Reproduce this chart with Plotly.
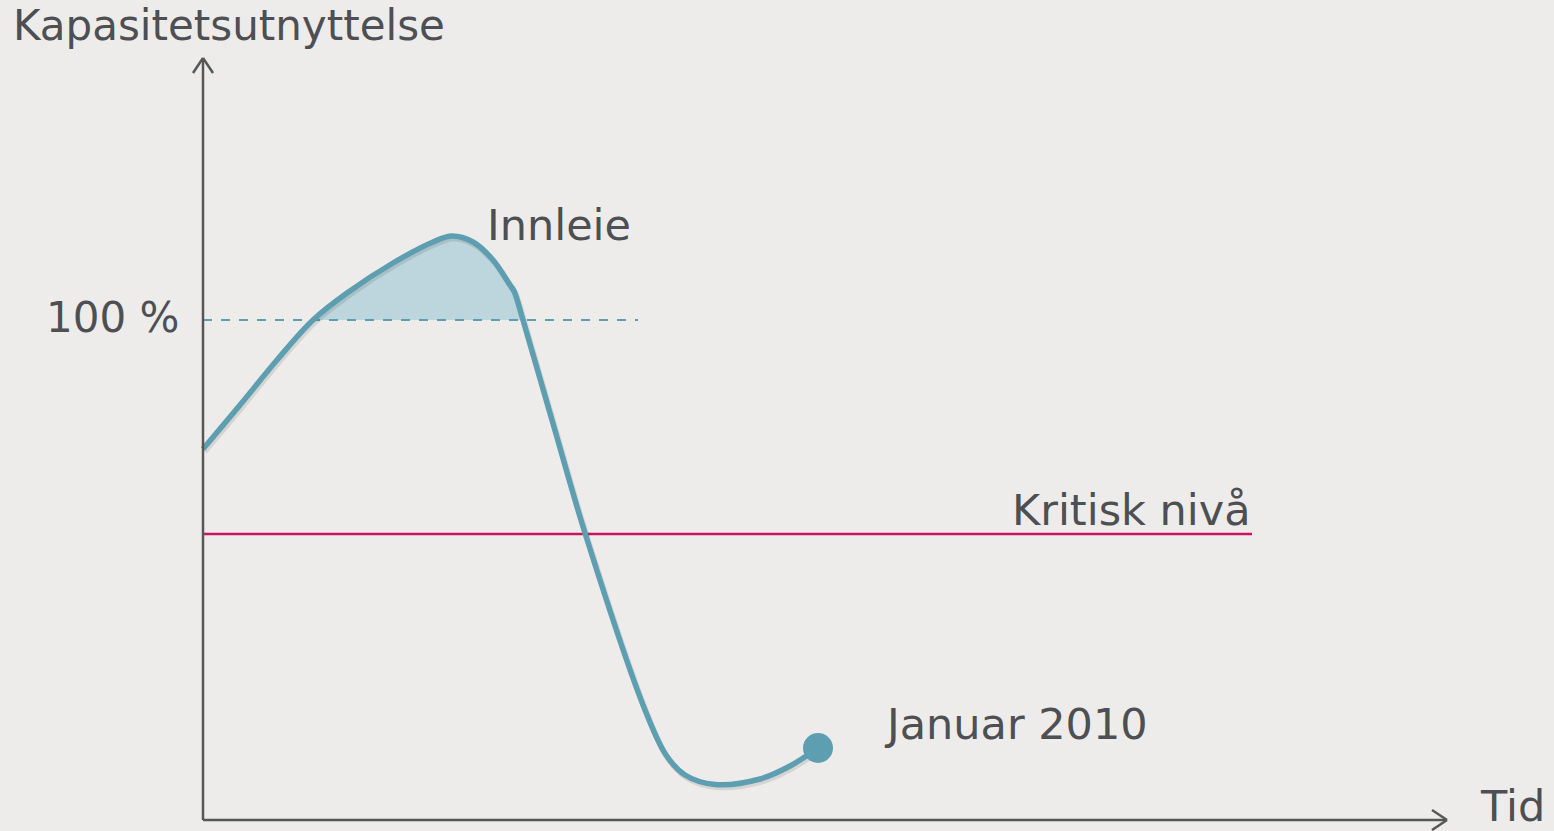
import plotly.graph_objects as go

# ---- data (time units, utilisation %) ----
curve_t = [0, 3.7, 7.4, 11.0, 14.4, 19.0, 23.0, 24.9, 27.0, 29.0, 30.7, 31.1, 32.0,
           35.1, 38.2, 44.2, 46.3, 48.2, 51.2, 55.7, 58.7, 61.5]
curve_u = [74.2, 83, 92, 100, 105.4, 111.4, 115.6, 116.8, 115.6, 112, 107, 105.8, 100,
           78.6, 57.4, 22, 13, 9, 7.1, 8.2, 10.8, 14.4]
capacity_level = 100
critical_level = 57.2
dash_end_t = 43.5
critical_end_t = 104.9
end_point = ("Januar 2010", 61.5, 14.4)

BG = "#edecea"
LINE = "#5e9eb1"
TEXT = "#4d4f53"
AXIS = "#555759"

fig = go.Figure()

# filled area above 100 % (Innleie)
i0 = curve_u.index(100)
i1 = len(curve_u) - 1 - curve_u[::-1].index(100)
fig.add_trace(go.Scatter(x=[curve_t[i0], curve_t[i1]], y=[capacity_level] * 2,
                         mode="lines", line=dict(width=0), hoverinfo="skip", showlegend=False))
fig.add_trace(go.Scatter(x=curve_t[i0:i1 + 1], y=curve_u[i0:i1 + 1], mode="lines",
                         line=dict(width=0, shape="spline"), fill="tonexty",
                         fillcolor="rgba(180,210,220,0.85)", hoverinfo="skip", showlegend=False))

# 100 % dashed line
fig.add_trace(go.Scatter(x=[0, dash_end_t], y=[capacity_level] * 2, mode="lines",
                         line=dict(color=LINE, width=2, dash="dash"), showlegend=False))
# critical level
fig.add_trace(go.Scatter(x=[0, critical_end_t], y=[critical_level] * 2, mode="lines",
                         line=dict(color="#c8135e", width=2.5), showlegend=False))

# shadow of curve
fig.add_trace(go.Scatter(x=[t + 0.15 for t in curve_t], y=[u - 0.5 for u in curve_u],
                         mode="lines", line=dict(color="rgba(0,0,0,0.10)", width=6,
                                                 shape="spline", smoothing=1.0),
                         hoverinfo="skip", showlegend=False))
# curve
fig.add_trace(go.Scatter(x=curve_t, y=curve_u, mode="lines",
                         line=dict(color=LINE, width=5.5, shape="spline", smoothing=1.0),
                         showlegend=False))
# end point
fig.add_trace(go.Scatter(x=[end_point[1]], y=[end_point[2]], mode="markers",
                         marker=dict(color=LINE, size=30), showlegend=False))

# axes with open arrow heads
ax = dict(type="line", line=dict(color=AXIS, width=2.5))
fig.add_shape(**ax, x0=0, y0=0, x1=0, y1=152.4)
fig.add_shape(**ax, x0=-1.0, y0=149.4, x1=0, y1=152.4)
fig.add_shape(**ax, x0=1.0, y0=149.4, x1=0, y1=152.4)
fig.add_shape(**ax, x0=0, y0=0, x1=124.4, y1=0)
fig.add_shape(**ax, x0=122.9, y0=2, x1=124.4, y1=0)
fig.add_shape(**ax, x0=122.9, y0=-2, x1=124.4, y1=0)

F = "DejaVu Sans"
def txt(text, x, y, xa="left", size=43):
    fig.add_annotation(x=x, y=y, text=text, showarrow=False, xanchor=xa, yanchor="middle",
                       font=dict(family=F, size=size, color=TEXT))

txt("Kapasitetsutnyttelse", -19.2, 158.9, size=42)
txt("Tid", 134.4, 2.8, "right")
txt("100 %", -2.2, 100.6, "right", size=42)
txt("Innleie", 28.2, 119.0)
txt("Kritisk nivå", 80.7, 62.0)
txt(end_point[0], 67.9, 19.2)

fig.update_layout(
    width=1554, height=831, margin=dict(l=0, r=0, t=0, b=0),
    paper_bgcolor=BG, plot_bgcolor=BG,
    xaxis=dict(range=[-20.3, 135.1], visible=False, fixedrange=True),
    yaxis=dict(range=[-2.2, 164], visible=False, fixedrange=True),
    showlegend=False,
)

fig.write_html("out.html", config={"displayModeBar": False},
               post_script="document.body.style.margin='0';document.body.style.overflow='hidden';"
                           "document.body.style.background='" + BG + "';")
